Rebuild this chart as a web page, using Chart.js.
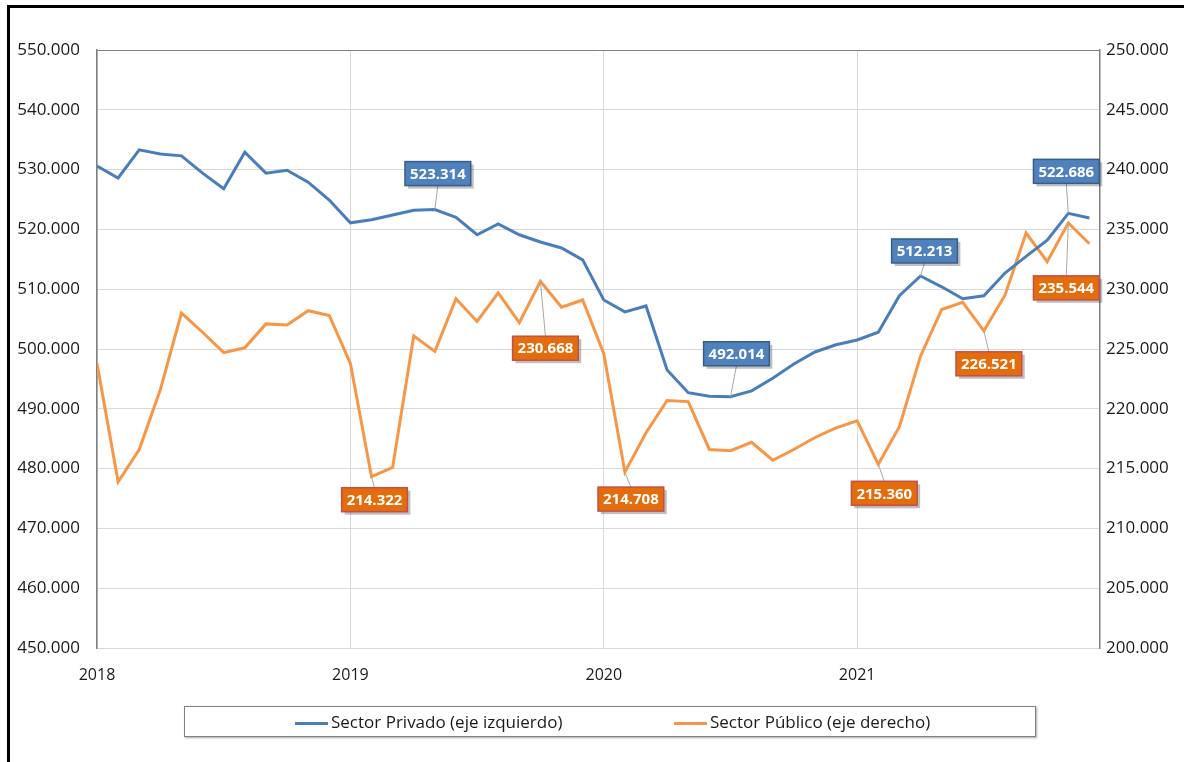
<!DOCTYPE html>
<html>
<head>
<meta charset="utf-8">
<script src="https://cdn.jsdelivr.net/npm/chart.js@4.4.0/dist/chart.umd.min.js"></script>
<style>
  html, body { margin: 0; padding: 0; background: #fff; overflow: hidden; }
  #wrap { position: relative; width: 1184px; height: 762px; }
  #frame { position: absolute; left: 7px; top: 5px; width: 2000px; height: 2000px; border: 3px solid #000; }
  #chart { position: absolute; left: 0; top: 0; }
  #legend {
    position: absolute; left: 184px; top: 706px; width: 850px; height: 29px;
    border: 1px solid #7f7f7f; box-shadow: 1px 1px 2px #aaa; background: #fff;
    font-family: "Open Sans", sans-serif; font-size: 17px; color: #1a1a1a;
  }
  .item { position: absolute; top: 0; height: 29px; line-height: 29px; white-space: nowrap; }
  .sw { display: inline-block; width: 33px; height: 3px; vertical-align: middle; margin-right: 3px; }
</style>
</head>
<body>
<div id="wrap">
  <div id="frame"></div>
  <canvas id="chart" width="1184" height="762"></canvas>
  <div id="legend">
    <div class="item" style="left:110px"><span class="sw" style="background:#4A7EBB"></span>Sector Privado (eje izquierdo)</div>
    <div class="item" style="left:489px"><span class="sw" style="background:#F79646"></span>Sector Público (eje derecho)</div>
  </div>
</div>
<script>
// meses ene-2018 .. dic-2021
const YEARS = ['2018', '2019', '2020', '2021'];

const privado = [
  530600, 528600, 533300, 532600, 532300, 529400, 526800, 532900, 529400, 529900, 527900, 524900,
  521100, 521600, 522400, 523200, 523314, 522000, 519100, 520900, 519100, 517900, 516900, 514900,
  508200, 506200, 507200, 496500, 492700, 492100, 492014, 493000, 495100, 497500, 499500, 500700,
  501500, 502800, 508900, 512213, 510400, 508400, 508900, 512700, 515500, 518200, 522686, 521900
];

const publico = [
  223800, 213900, 216600, 221600, 228000, 226400, 224700, 225100, 227100, 227000, 228200, 227800,
  223800, 214322, 215100, 226100, 224800, 229200, 227300, 229700, 227200, 230668, 228500, 229100,
  224600, 214708, 218000, 220700, 220600, 216600, 216500, 217200, 215700, 216600, 217600, 218400,
  219000, 215360, 218500, 224400, 228300, 228900, 226521, 229500, 234700, 232300, 235544, 233800
];

// etiquetas destacadas: serie, índice del mes
const labelPoints = [
  { ds: 0, i: 16 }, { ds: 0, i: 30 }, { ds: 0, i: 39 }, { ds: 0, i: 46 },
  { ds: 1, i: 13 }, { ds: 1, i: 21 }, { ds: 1, i: 25 }, { ds: 1, i: 37 }, { ds: 1, i: 42 }, { ds: 1, i: 46 }
];
// desplazamiento de cada caja respecto a su punto (px)
const labelOffsets = [
  [3, -36], [6, -43], [4, -25], [-2, -42],
  [3, 23], [5, 67], [6, 27], [6, 29], [5, 33], [-2, 65]
];

const fmt = v => String(Math.round(v)).replace(/\B(?=(\d{3})+(?!\d))/g, '.');

const BOX_STYLE = [
  { fill: '#4F81BD', stroke: '#385D8A' },
  { fill: '#E46C0A', stroke: '#C0504D' }
];

const calloutPlugin = {
  id: 'callouts',
  afterDatasetsDraw(chart) {
    const ctx = chart.ctx;
    ctx.save();
    ctx.font = 'bold 15px "Open Sans", sans-serif';
    labelPoints.forEach((lp, k) => {
      const pt = chart.getDatasetMeta(lp.ds).data[lp.i];
      const value = chart.data.datasets[lp.ds].data[lp.i].y;
      const text = fmt(value);
      const w = ctx.measureText(text).width + 10;
      const h = 24;
      const cx = pt.x + labelOffsets[k][0];
      const cy = pt.y + labelOffsets[k][1];
      const bx = cx - w / 2, by = cy - h / 2;
      // linea guia
      ctx.strokeStyle = '#A6A6A6';
      ctx.lineWidth = 1;
      ctx.beginPath();
      ctx.moveTo(pt.x, pt.y);
      ctx.lineTo(cx, cy < pt.y ? by + h : by);
      ctx.stroke();
      // sombra + caja
      ctx.fillStyle = 'rgba(0,0,0,0.25)';
      ctx.fillRect(bx + 3, by + 3, w, h);
      ctx.fillStyle = BOX_STYLE[lp.ds].fill;
      ctx.fillRect(bx, by, w, h);
      ctx.strokeStyle = BOX_STYLE[lp.ds].stroke;
      ctx.lineWidth = 1.5;
      ctx.strokeRect(bx, by, w, h);
      ctx.fillStyle = '#fff';
      ctx.textAlign = 'center';
      ctx.textBaseline = 'middle';
      ctx.fillText(text, cx, cy + 1);
    });
    ctx.restore();
  }
};

const toPoints = arr => arr.map((v, i) => ({ x: i, y: v }));

new Chart(document.getElementById('chart'), {
  type: 'line',
  data: {
    datasets: [
      {
        label: 'Sector Privado (eje izquierdo)',
        data: toPoints(privado),
        yAxisID: 'yL',
        borderColor: '#4A7EBB',
        borderWidth: 3,
        pointRadius: 0,
        tension: 0
      },
      {
        label: 'Sector Público (eje derecho)',
        data: toPoints(publico),
        yAxisID: 'yR',
        borderColor: '#F79646',
        borderWidth: 3,
        pointRadius: 0,
        tension: 0
      }
    ]
  },
  options: {
    responsive: false,
    devicePixelRatio: 1,
    animation: false,
    layout: { padding: { top: 50, bottom: 74, left: 0, right: 0 } },
    plugins: { legend: { display: false }, tooltip: { enabled: false } },
    scales: {
      x: {
        type: 'linear',
        min: 0,
        max: 47.5,
        afterBuildTicks: s => { s.ticks = [0, 12, 24, 36].map(v => ({ value: v })); },
        afterFit: s => { s.height = 40; },
        grid: { color: '#D9D9D9', drawTicks: false },
        border: { display: false },
        ticks: {
          padding: 18,
          color: '#1a1a1a',
          font: { family: 'Open Sans', size: 16 },
          callback: v => YEARS[v / 12]
        }
      },
      yL: {
        position: 'left',
        min: 450000,
        max: 550000,
        afterFit: s => { s.width = 97; },
        grid: {
          drawTicks: false,
          color: c => c.tick && c.tick.value === 550000 ? '#7F7F7F' : '#D9D9D9'
        },
        border: { color: '#7F7F7F', width: 1.5 },
        ticks: {
          stepSize: 10000,
          padding: 17,
          color: '#1a1a1a',
          font: { family: 'Open Sans', size: 17 },
          callback: v => fmt(v)
        }
      },
      yR: {
        position: 'right',
        min: 200000,
        max: 250000,
        afterFit: s => { s.width = 84; },
        grid: { display: false, drawTicks: false },
        border: { color: '#7F7F7F', width: 1.5 },
        ticks: {
          stepSize: 5000,
          padding: 6,
          color: '#1a1a1a',
          font: { family: 'Open Sans', size: 17 },
          callback: v => fmt(v)
        }
      }
    }
  },
  plugins: [calloutPlugin]
});
</script>
</body>
</html>
